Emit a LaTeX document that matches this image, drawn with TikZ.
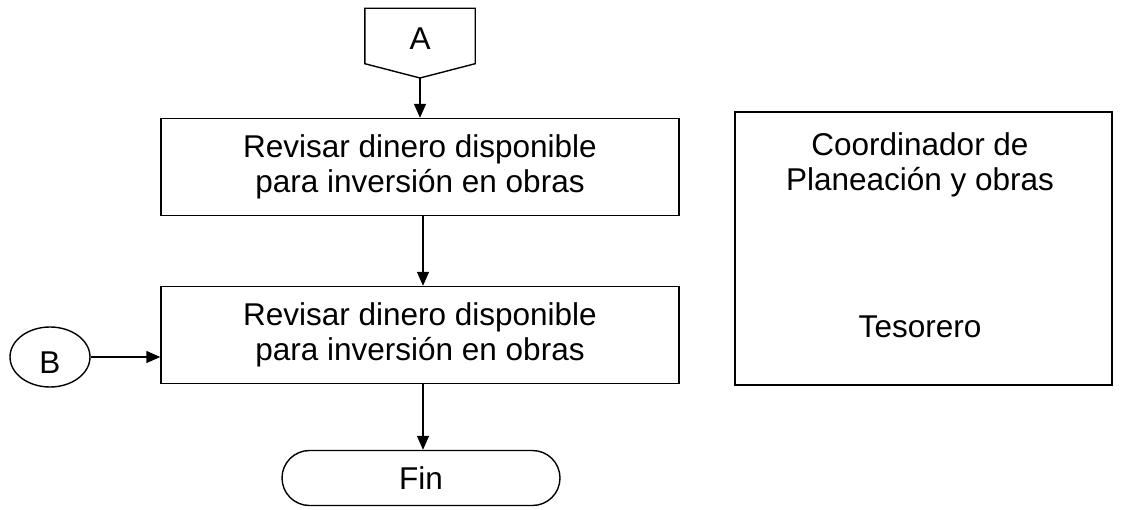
\documentclass[tikz,border=0pt]{standalone}
\usepackage{fontspec}
\setmainfont{Liberation Sans}
\usetikzlibrary{shapes.geometric,shapes.misc,arrows.meta,calc}
\begin{document}
\begin{tikzpicture}[x=1pt,y=-1pt,
  every node/.style={font=\fontsize{31.5}{35}\selectfont, align=center, inner sep=0pt},
  ln/.style={line width=1.4pt},
  proc/.style={ln, draw, minimum width=518pt, minimum height=97pt},
  arr/.style={ln, -{Triangle[width=12pt,length=14pt]}}]
\useasboundingbox (0,0) rectangle (1124,510);
% off-page connector A
\node[minimum width=110pt, minimum height=55pt, text height=28pt, text depth=0pt] (A) at (420,36) {A};
\coordinate (Atip) at (420,78);
\draw[ln, line join=miter] (A.north west) -- (A.north east) -- (A.south east) -- (Atip) -- (A.south west) -- cycle;
% process boxes
\node[proc] (p1) at (420,167) {Revisar dinero disponible\\para inversión en obras};
\node[proc] (p2) at (420,335) {Revisar dinero disponible\\para inversión en obras};
\coordinate (ax) at (423,0);
% connector B
\node[ln, draw, ellipse, minimum width=80pt, minimum height=60pt, text height=33pt, text depth=0pt] (B) at (50,357) {B};
% terminal
\node[ln, draw, rounded rectangle, minimum width=278pt, minimum height=55pt] (fin) at (421,478) {Fin};
% right box
\node[ln, draw, minimum width=377pt, minimum height=273pt] (rb) at (923.5,248.5) {};
\node (c1) at (920,165) {Coordinador de\\Planeación y obras};
\node (c2) at (920,327) {Tesorero};
% arrows
\draw[arr] (Atip) -- (Atip |- p1.north);
\draw[arr] (p1.south -| ax) -- (p2.north -| ax);
\draw[arr] (B.east) -- (B.east -| p2.west);
\draw[arr] (p2.south -| ax) -- (fin.north -| ax);
\end{tikzpicture}
\end{document}
